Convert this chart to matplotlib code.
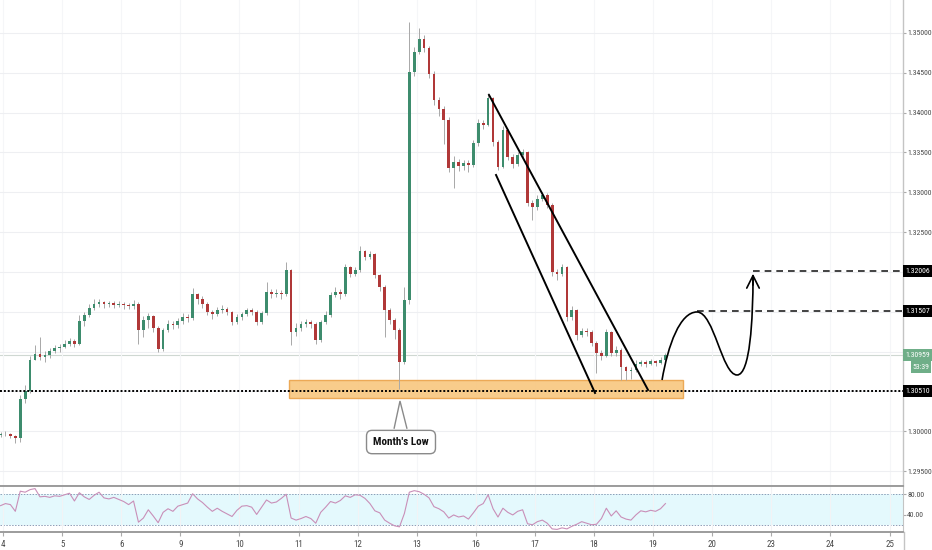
import numpy as np
import matplotlib

matplotlib.use('Agg')
import matplotlib.pyplot as plt
from matplotlib import font_manager
from matplotlib.lines import Line2D
from matplotlib.path import Path
from matplotlib.patches import PathPatch, Rectangle, Polygon

# pick a narrow face for the price scale if one is installed
installed = {f.name for f in font_manager.fontManager.ttflist}
NARROW = [f for f in ['Liberation Sans Narrow', 'Roboto Condensed', 'Open Sans Condensed'] if f in installed]
plt.rcParams['font.family'] = NARROW + ['Liberation Sans', 'DejaVu Sans']
SCALE_FS = 5.6 if NARROW else 4.8

# Trading days shown on the time axis (weekends skipped)
DAY_LABELS = ['4', '5', '6', '9', '10', '11', '12', '13', '16', '17', '18', '19', '20', '23', '24', '25']

# 2-hour candles, one row per trading day
OPEN_FIRST = 1.2995
CLOSE = [
    1.2996, 1.2997, 1.2994, 1.2991, 1.3040, 1.3050, 1.3090, 1.3097, 1.3093, 1.3096, 1.3101, 1.3104,
    1.3106, 1.3110, 1.3113, 1.3110, 1.3138, 1.3146, 1.3155, 1.3160, 1.3162, 1.3160, 1.3161, 1.3159,
    1.3160, 1.3158, 1.3157, 1.3160, 1.3127, 1.3140, 1.3145, 1.3130, 1.3103, 1.3127, 1.3135, 1.3133,
    1.3138, 1.3144, 1.3142, 1.3172, 1.3166, 1.3160, 1.3150, 1.3147, 1.3152, 1.3154, 1.3150, 1.3137,
    1.3143, 1.3147, 1.3152, 1.3150, 1.3137, 1.3148, 1.3175, 1.3172, 1.3174, 1.3172, 1.3202, 1.3125,
    1.3130, 1.3134, 1.3137, 1.3135, 1.3114, 1.3137, 1.3146, 1.3171, 1.3175, 1.3172, 1.3206, 1.3198,
    1.3202, 1.3226, 1.3219, 1.3222, 1.3196, 1.3181, 1.3152, 1.3140, 1.3127, 1.3087, 1.3165, 1.3451,
    1.3476, 1.3492, 1.3481, 1.3448, 1.3416, 1.3405, 1.3391, 1.3330, 1.3338, 1.3333, 1.3337, 1.3334,
    1.3362, 1.3387, 1.3385, 1.3418, 1.3363, 1.3332, 1.3378, 1.3344, 1.3336, 1.3347, 1.3350, 1.3287,
    1.3281, 1.3292, 1.3297, 1.3284, 1.3200, 1.3197, 1.3206, 1.3143, 1.3152, 1.3121, 1.3126, 1.3124,
    1.3111, 1.3098, 1.3095, 1.3124, 1.3098, 1.3102, 1.3081, 1.3075, 1.3077, 1.3085, 1.3087, 1.3085,
    1.3088, 1.3086, 1.3089, 1.30959,
]
HIGH = [
    1.2999, 1.3000, 1.2998, 1.2995, 1.3045, 1.3058, 1.3094, 1.3108, 1.3118, 1.3101, 1.3105, 1.3108,
    1.3110, 1.3114, 1.3117, 1.3116, 1.3146, 1.3150, 1.3160, 1.3166, 1.3166, 1.3164, 1.3164, 1.3163,
    1.3164, 1.3162, 1.3161, 1.3165, 1.3162, 1.3145, 1.3148, 1.3146, 1.3132, 1.3130, 1.3139, 1.3138,
    1.3142, 1.3148, 1.3147, 1.3180, 1.3174, 1.3170, 1.3162, 1.3152, 1.3156, 1.3158, 1.3156, 1.3151,
    1.3147, 1.3150, 1.3155, 1.3155, 1.3152, 1.3151, 1.3187, 1.3178, 1.3178, 1.3177, 1.3212, 1.3204,
    1.3136, 1.3138, 1.3141, 1.3140, 1.3137, 1.3140, 1.3151, 1.3175, 1.3181, 1.3178, 1.3210, 1.3208,
    1.3206, 1.3232, 1.3227, 1.3226, 1.3224, 1.3198, 1.3183, 1.3155, 1.3142, 1.3130, 1.3181, 1.3514,
    1.3482, 1.3506, 1.3497, 1.3484, 1.3452, 1.3420, 1.3408, 1.3395, 1.3346, 1.3342, 1.3341, 1.3340,
    1.3365, 1.3392, 1.3391, 1.3425, 1.3420, 1.3366, 1.3383, 1.3380, 1.3348, 1.3351, 1.3354, 1.3352,
    1.3290, 1.3296, 1.3300, 1.3299, 1.3286, 1.3204, 1.3210, 1.3208, 1.3157, 1.3154, 1.3130, 1.3129,
    1.3127, 1.3113, 1.3102, 1.3128, 1.3126, 1.3107, 1.3104, 1.3082, 1.3081, 1.3089, 1.3090, 1.3089,
    1.3091, 1.3090, 1.3093, 1.3098,
]
LOW = [
    1.2993, 1.2994, 1.2991, 1.2985, 1.2986, 1.3035, 1.3048, 1.3090, 1.3089, 1.3087, 1.3092, 1.3098,
    1.3100, 1.3104, 1.3107, 1.3106, 1.3108, 1.3132, 1.3143, 1.3152, 1.3156, 1.3155, 1.3156, 1.3155,
    1.3156, 1.3154, 1.3153, 1.3154, 1.3110, 1.3118, 1.3130, 1.3125, 1.3100, 1.3101, 1.3124, 1.3128,
    1.3130, 1.3135, 1.3137, 1.3140, 1.3160, 1.3155, 1.3146, 1.3141, 1.3145, 1.3148, 1.3146, 1.3133,
    1.3135, 1.3140, 1.3145, 1.3146, 1.3133, 1.3135, 1.3146, 1.3167, 1.3168, 1.3166, 1.3170, 1.3108,
    1.3120, 1.3126, 1.3131, 1.3130, 1.3110, 1.3112, 1.3134, 1.3144, 1.3168, 1.3166, 1.3170, 1.3194,
    1.3195, 1.3200, 1.3215, 1.3216, 1.3192, 1.3176, 1.3118, 1.3134, 1.3116, 1.3053, 1.3085, 1.3160,
    1.3446, 1.3474, 1.3476, 1.3443, 1.3410, 1.3396, 1.3360, 1.3325, 1.3305, 1.3327, 1.3328, 1.3326,
    1.3332, 1.3358, 1.3380, 1.3383, 1.3358, 1.3328, 1.3330, 1.3340, 1.3330, 1.3333, 1.3342, 1.3283,
    1.3265, 1.3278, 1.3289, 1.3280, 1.3195, 1.3190, 1.3195, 1.3138, 1.3140, 1.3115, 1.3118, 1.3119,
    1.3107, 1.3073, 1.3090, 1.3093, 1.3094, 1.3094, 1.3064, 1.3064, 1.3066, 1.3074, 1.3082, 1.3081,
    1.3083, 1.3082, 1.3084, 1.3087,
]
RSI = [
    58, 62, 60, 47, 86, 84, 89, 91, 75, 76, 74, 77,
    76, 79, 82, 67, 83, 75, 70, 78, 84, 73, 71, 74,
    70, 66, 60, 67, 26, 34, 50, 38, 25, 45, 52, 47,
    57, 60, 63, 81, 71, 64, 55, 47, 53, 47, 42, 37,
    49, 57, 58, 55, 41, 55, 69, 63, 65, 72, 80, 34,
    30, 33, 37, 33, 24, 45, 55, 66, 63, 68, 77, 74,
    79, 78, 72, 62, 48, 44, 30, 24, 19, 17, 43, 84,
    87, 85, 80, 73, 56, 52, 46, 34, 40, 36, 38, 32,
    44, 57, 62, 79, 52, 36, 53, 45, 40, 47, 50, 23,
    21, 27, 30, 24, 13, 12, 15, 13, 18, 22, 27, 24,
    21, 22, 33, 53, 38, 48, 36, 32, 30, 40, 48, 46,
    49, 47, 52, 62,
]

# Levels marked on the price scale
MONTH_LOW = 1.30510
TARGET_1 = 1.31507
TARGET_2 = 1.32006
LAST_PRICE = 1.30959
COUNTDOWN = '53:39'
PRICE_TICKS = [1.295, 1.300, 1.305, 1.310, 1.315, 1.320, 1.325, 1.330, 1.335, 1.340, 1.345, 1.350]
HIDDEN_TICKS = [1.305, 1.310, 1.315, 1.320]

GREEN = '#3d8c6d'
RED = '#b03838'
WICK = '#a8a8a8'
BORDER = '#9c9c9c'

n = len(CLOSE)
t = (np.arange(n) - 0.5) / 12.0
close = np.array(CLOSE)
opn = np.concatenate([[OPEN_FIRST], close[:-1]])
up = close >= opn

fig = plt.figure(figsize=(9.32, 5.5), dpi=100)
ax = fig.add_axes([0, 64 / 550, 903 / 932, 486 / 550])
rax = fig.add_axes([0, 18 / 550, 903 / 932, 46 / 550], sharex=ax)

# ---- main price pane ----
ax.vlines(t, LOW, HIGH, color=WICK, lw=0.7, zorder=3)
body_bottom = np.minimum(opn, close)
body_h = np.maximum(np.abs(close - opn), 0.00004)
ax.bar(t, body_h, bottom=body_bottom, width=0.046,
       color=np.where(up, GREEN, RED), zorder=4, linewidth=0)

ax.set_xlim(-0.051, 15.228)
ax.set_ylim(1.29312, 1.35414)
ax.set_xticks(range(len(DAY_LABELS)))
ax.tick_params(axis='x', length=0, labelbottom=False)
ax.set_yticks(PRICE_TICKS)
ax.set_yticklabels(['' if p in HIDDEN_TICKS else '%.5f' % p for p in PRICE_TICKS])
ax.yaxis.tick_right()
ax.tick_params(axis='y', direction='out', length=2, color='#aaaaaa',
               labelsize=SCALE_FS, labelcolor='#4a4a4a', pad=1)
ax.grid(axis='y', color='#eeeff2', lw=0.8, zorder=0)
ax.grid(axis='x', color='#f5f6f8', lw=0.8, zorder=0)
for s in ['top', 'left']:
    ax.spines[s].set_visible(False)
ax.spines['bottom'].set_color(BORDER)
ax.spines['bottom'].set_linewidth(1.4)
ax.spines['right'].set_color('#c4c4c4')
ax.spines['right'].set_linewidth(1.0)

# month's low zone
ax.add_patch(Rectangle((4.839, 1.30417), 11.506 - 4.839, 1.30643 - 1.30417,
                       facecolor='#f8c77f', edgecolor='#eba34a', lw=1.0, alpha=0.9, zorder=2))
ax.axhline(MONTH_LOW, color='black', lw=1.4, ls=(0, (1, 1)), zorder=5)
ax.axhline(LAST_PRICE, color='#cfd8d2', lw=0.8, zorder=1)
ax.plot([11.743, 15.3], [TARGET_1, TARGET_1], color='#222222', lw=1.2, ls=(0, (4, 3)), zorder=5)
ax.plot([12.69, 15.3], [TARGET_2, TARGET_2], color='#222222', lw=1.2, ls=(0, (4, 3)), zorder=5)

# falling channel
ax.plot([8.223, 10.914], [1.34222, 1.30518], color='black', lw=1.4, zorder=6)
ax.plot([8.342, 10.017], [1.33217, 1.30480], color='black', lw=1.4, zorder=6)

# projected path
verts = [(11.151, 1.30643), (11.252, 1.31082), (11.455, 1.31497), (11.743, 1.31497),
         (12.030, 1.31497), (12.166, 1.30706), (12.420, 1.30706),
         (12.640, 1.30706), (12.690, 1.31396), (12.690, 1.31951)]
codes = [Path.MOVETO] + [Path.CURVE4] * 9
ax.add_patch(PathPatch(Path(verts, codes), fill=False, color='black', lw=1.2, zorder=6))
ax.annotate('', xy=(12.690, 1.32012), xytext=(12.690, 1.3180),
            arrowprops=dict(arrowstyle='->,head_length=0.9,head_width=0.45', color='black', lw=1.2),
            zorder=6)

# callout
ax.text(6.734, 1.29864, "Month's Low", ha='center', va='center', fontsize=8,
        fontweight='bold', color='#111111', zorder=7,
        bbox=dict(boxstyle='round,pad=0.6,rounding_size=0.5', fc='white', ec='#8a8a8a', lw=1.0))
ax.add_patch(Polygon([(6.616, 1.30030), (6.717, 1.30379), (6.836, 1.30030)],
                     closed=False, fc='white', ec='#8a8a8a', lw=1.0, zorder=8))

# price-scale labels
ytr = ax.get_yaxis_transform()
box_w = 29 / 903
box_h = 12 / 7964
for price, fc in [(TARGET_2, 'black'), (TARGET_1, 'black'), (MONTH_LOW, 'black'), (LAST_PRICE, '#6fae88')]:
    ax.add_patch(Rectangle((1.0, price - box_h / 2), box_w, box_h, transform=ytr,
                           facecolor=fc, edgecolor='none', clip_on=False, zorder=9))
    ax.text(1.0 + box_w / 2, price, '%.5f' % price, transform=ytr, ha='center', va='center',
            fontsize=SCALE_FS, color='white', clip_on=False, zorder=10)
cd_y = LAST_PRICE - 12 / 7964
ax.add_patch(Rectangle((1.0 + 8 / 903, cd_y - box_h / 2), 20 / 903, box_h, transform=ytr,
                       facecolor='#6fae88', edgecolor='none', clip_on=False, zorder=9))
ax.text(1.0 + 18 / 903, cd_y, COUNTDOWN, transform=ytr, ha='center', va='center',
        fontsize=SCALE_FS, color='white', clip_on=False, zorder=10)

# ---- RSI pane ----
rax.axhspan(20, 80, color='#e4f9fd', lw=0, zorder=0)
rax.axhline(80, color='#8c9db6', lw=0.7, ls=(0, (1.5, 1.5)), zorder=1)
rax.axhline(20, color='#8c9db6', lw=0.7, ls=(0, (1.5, 1.5)), zorder=1)
rax.plot(t, RSI, color='#c98fb8', lw=0.8, zorder=3)
rax.set_ylim(7, 96)
rax.set_yticks([40, 80])
rax.set_yticklabels(['40.00', '80.00'])
rax.yaxis.tick_right()
rax.tick_params(axis='y', direction='out', length=2, color='#aaaaaa',
                labelsize=SCALE_FS, labelcolor='#4a4a4a', pad=1)
rax.set_xticks(range(len(DAY_LABELS)))
rax.set_xticklabels(DAY_LABELS)
rax.tick_params(axis='x', direction='out', length=3, color='#aaaaaa',
                labelsize=6.5, labelcolor='#4a4a4a', pad=3)
rax.grid(axis='x', color='#f2f3f5', lw=0.8, zorder=0)
rax.spines['left'].set_visible(False)
for s in ['top', 'bottom']:
    rax.spines[s].set_color(BORDER)
    rax.spines[s].set_linewidth(1.4)
rax.spines['right'].set_color('#c4c4c4')

# price-scale border runs down through the date strip
fig.add_artist(Line2D([903.5 / 932, 903.5 / 932], [0, 18 / 550], color='#c4c4c4', lw=1.0))

fig.savefig('out.png', dpi=100)
